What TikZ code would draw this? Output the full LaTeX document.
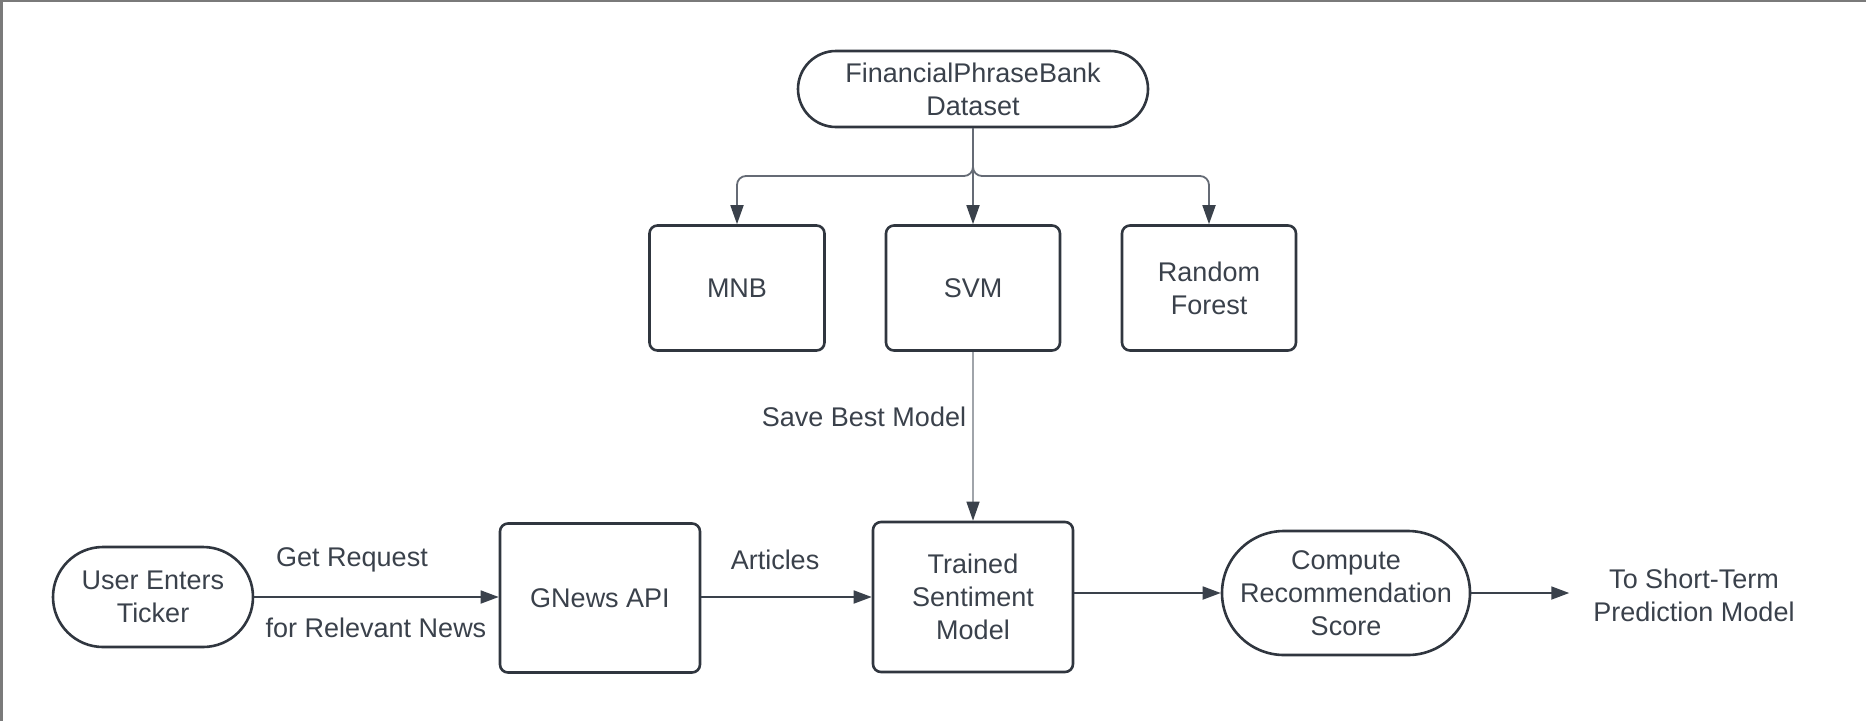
\documentclass[tikz,border=0pt]{standalone}
\usepackage{fontspec}
\setmainfont{Liberation Sans}
\usetikzlibrary{arrows.meta}
\definecolor{ink}{HTML}{3A414B}
\definecolor{edgec}{HTML}{30363F}
\definecolor{framec}{HTML}{7A7A7A}
\definecolor{thinc}{HTML}{A0A4AA}
\definecolor{branchc}{HTML}{656B75}
\begin{document}
\begin{tikzpicture}[x=1pt,y=-1pt,
  every node/.style={text=ink, font=\fontsize{27}{33}\selectfont, align=center, inner sep=0pt},
  box/.style={draw=edgec, line width=2.6pt, rounded corners=8pt},
  pill/.style={draw=edgec, line width=2.6pt},
  conn/.style={draw=ink, line width=1.8pt, -{Triangle[length=18pt,width=13pt]}},
  branch/.style={draw=branchc, line width=1.8pt, -{Triangle[length=19pt,width=13pt,color=ink]}},
  thinconn/.style={draw=thinc, line width=1.3pt, -{Triangle[length=19pt,width=13pt,color=ink]}}
]
\useasboundingbox (0,0) rectangle (1866,721);
\fill[framec] (0,0) rectangle (1866,2);
\fill[framec] (0,0) rectangle (3,721);

% nodes
\node[pill, rounded corners=38pt, minimum width=350pt, minimum height=76pt] (top) at (973,89) {FinancialPhraseBank\\Dataset};
\node[box, minimum width=175pt, minimum height=125pt] (mnb) at (737,288) {MNB};
\node[box, minimum width=174pt, minimum height=125pt] (svm) at (973,288) {SVM};
\node[box, minimum width=174pt, minimum height=125pt] (rf) at (1209,288) {Random\\Forest};

\node[pill, rounded corners=50pt, minimum width=200pt, minimum height=100pt] (user) at (153,597) {User Enters\\Ticker};
\node[box, minimum width=200pt, minimum height=149pt] (gnews) at (600,598) {GNews API};
\node[box, minimum width=200pt, minimum height=150pt] (trained) at (973,597) {Trained\\Sentiment\\Model};
\node[pill, rounded corners=62pt, minimum width=248pt, minimum height=124pt] (compute) at (1346,593) {Compute\\Recommendation\\Score};
\node (target) at (1694,595) {To Short-Term\\Prediction Model};

% labels
\node (lget) at (352,560) {Get Request};
\node (lfor) at (376,628) {for Relevant News};
\node (lart) at (775,560) {Articles};
\node (lsave) at (864,417) {Save Best Model};

% branch
\coordinate (split) at (973,176);
\draw[branch] (top.south) -- (svm.north);
\draw[branch, rounded corners=9pt] (top.south) -- (split) -| (mnb.north);
\draw[branch, rounded corners=9pt] (top.south) -- (split) -| (rf.north);

% save best model
\draw[thinconn] (svm.south) -- (trained.north);

% main flow
\draw[conn] (user.east) -- (gnews.west |- user.east);
\draw[conn] (gnews.east |- user.east) -- (trained.west |- user.east);
\draw[conn] (trained.east |- compute.west) -- (compute.west);
\draw[conn, shorten >=24pt] (compute.east) -- (target.west |- compute.east);
\end{tikzpicture}
\end{document}
